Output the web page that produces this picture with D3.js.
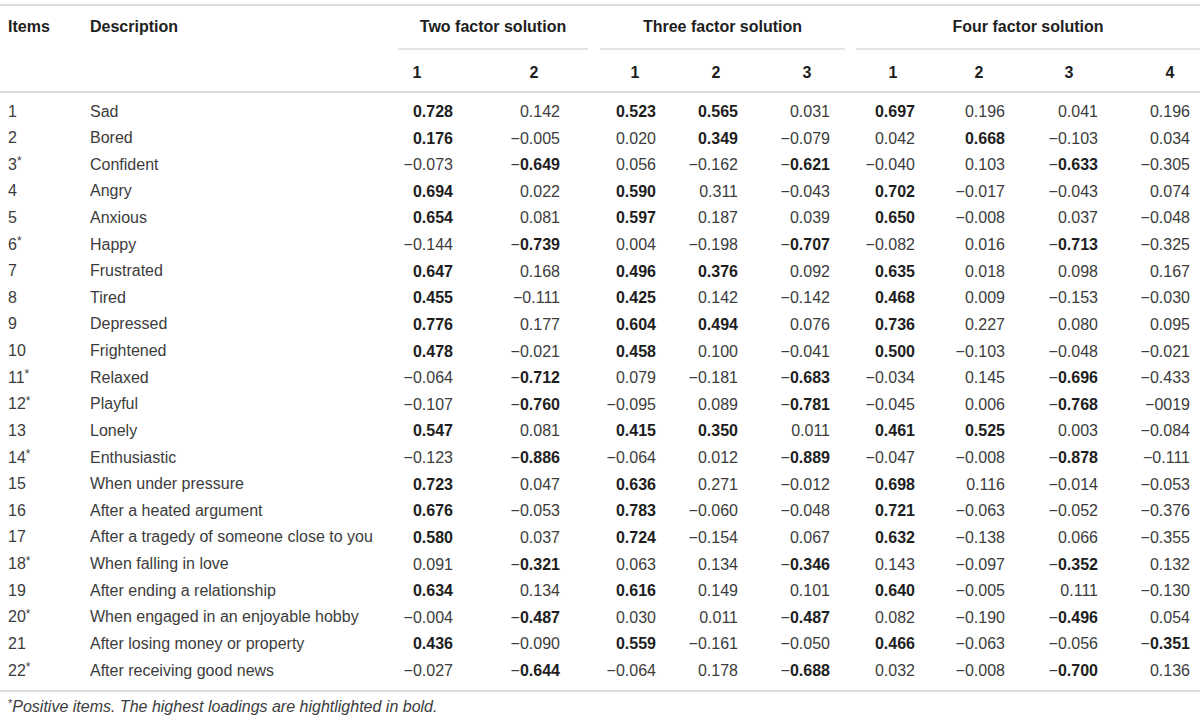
<!DOCTYPE html>
<html>
<head>
<meta charset="utf-8">
<script src="https://cdn.jsdelivr.net/npm/d3@7"></script>
<style>
  body { margin: 0; background: #fff; }
  svg { display: block; font-family: "Liberation Sans", Arial, Helvetica, sans-serif; }
</style>
</head>
<body>
<svg id="chart" width="1200" height="723"></svg>
<script>
// item numbers and descriptions (positive items get an asterisk)
const items = d3.range(1, 23)
const positiveItems = [3, 6, 11, 12, 14, 18, 20, 22]
const descriptions = ["Sad", "Bored", "Confident", "Angry", "Anxious", "Happy", "Frustrated", "Tired",
  "Depressed", "Frightened", "Relaxed", "Playful", "Lonely", "Enthusiastic", "When under pressure",
  "After a heated argument", "After a tragedy of someone close to you", "When falling in love",
  "After ending a relationship", "When engaged in an enjoyable hobby", "After losing money or property",
  "After receiving good news"]

const solutions = ["Two factor solution", "Three factor solution", "Four factor solution"]

// loadings, as printed
const two1 = ["0.728", "0.176", "-0.073", "0.694", "0.654", "-0.144", "0.647", "0.455", "0.776", "0.478", "-0.064", "-0.107", "0.547", "-0.123", "0.723", "0.676", "0.580", "0.091", "0.634", "-0.004", "0.436", "-0.027"]
const two2 = ["0.142", "-0.005", "-0.649", "0.022", "0.081", "-0.739", "0.168", "-0.111", "0.177", "-0.021", "-0.712", "-0.760", "0.081", "-0.886", "0.047", "-0.053", "0.037", "-0.321", "0.134", "-0.487", "-0.090", "-0.644"]
const three1 = ["0.523", "0.020", "0.056", "0.590", "0.597", "0.004", "0.496", "0.425", "0.604", "0.458", "0.079", "-0.095", "0.415", "-0.064", "0.636", "0.783", "0.724", "0.063", "0.616", "0.030", "0.559", "-0.064"]
const three2 = ["0.565", "0.349", "-0.162", "0.311", "0.187", "-0.198", "0.376", "0.142", "0.494", "0.100", "-0.181", "0.089", "0.350", "0.012", "0.271", "-0.060", "-0.154", "0.134", "0.149", "0.011", "-0.161", "0.178"]
const three3 = ["0.031", "-0.079", "-0.621", "-0.043", "0.039", "-0.707", "0.092", "-0.142", "0.076", "-0.041", "-0.683", "-0.781", "0.011", "-0.889", "-0.012", "-0.048", "0.067", "-0.346", "0.101", "-0.487", "-0.050", "-0.688"]
const four1 = ["0.697", "0.042", "-0.040", "0.702", "0.650", "-0.082", "0.635", "0.468", "0.736", "0.500", "-0.034", "-0.045", "0.461", "-0.047", "0.698", "0.721", "0.632", "0.143", "0.640", "0.082", "0.466", "0.032"]
const four2 = ["0.196", "0.668", "0.103", "-0.017", "-0.008", "0.016", "0.018", "0.009", "0.227", "-0.103", "0.145", "0.006", "0.525", "-0.008", "0.116", "-0.063", "-0.138", "-0.097", "-0.005", "-0.190", "-0.063", "-0.008"]
const four3 = ["0.041", "-0.103", "-0.633", "-0.043", "0.037", "-0.713", "0.098", "-0.153", "0.080", "-0.048", "-0.696", "-0.768", "0.003", "-0.878", "-0.014", "-0.052", "0.066", "-0.352", "0.111", "-0.496", "-0.056", "-0.700"]
const four4 = ["0.196", "0.034", "-0.305", "0.074", "-0.048", "-0.325", "0.167", "-0.030", "0.095", "-0.021", "-0.433", "-0019", "-0.084", "-0.111", "-0.053", "-0.376", "-0.355", "0.132", "-0.130", "0.054", "-0.351", "0.136"]

// items whose loading is highlighted (bold) in each column
const bold_two1 = [1, 2, 4, 5, 7, 8, 9, 10, 13, 15, 16, 17, 19, 21]
const bold_two2 = [3, 6, 11, 12, 14, 18, 20, 22]
const bold_three1 = [1, 4, 5, 7, 8, 9, 10, 13, 15, 16, 17, 19, 21]
const bold_three2 = [1, 2, 7, 9, 13]
const bold_three3 = [3, 6, 11, 12, 14, 18, 20, 22]
const bold_four1 = [1, 4, 5, 7, 8, 9, 10, 13, 15, 16, 17, 19, 21]
const bold_four2 = [2, 13]
const bold_four3 = [3, 6, 11, 12, 14, 18, 20, 22]
const bold_four4 = [21]

const footnote = "Positive items. The highest loadings are hightlighted in bold."

// columns: solution index, factor label, values, bold list
const columns = [
  {sol: 0, factor: "1", values: two1, bold: bold_two1},
  {sol: 0, factor: "2", values: two2, bold: bold_two2},
  {sol: 1, factor: "1", values: three1, bold: bold_three1},
  {sol: 1, factor: "2", values: three2, bold: bold_three2},
  {sol: 1, factor: "3", values: three3, bold: bold_three3},
  {sol: 2, factor: "1", values: four1, bold: bold_four1},
  {sol: 2, factor: "2", values: four2, bold: bold_four2},
  {sol: 2, factor: "3", values: four3, bold: bold_four3},
  {sol: 2, factor: "4", values: four4, bold: bold_four4}
]

// layout
const colRight = [453, 560, 656, 738, 830, 915, 1005, 1098, 1190]
const headX = [417, 534, 635, 716, 807, 893, 979, 1069, 1170]
const groupSpan = [[398, 588], [600, 845], [856, 1200]]
const lineColor = "#dcdcdc"
const textColor = "#3c3c3c"
const boldColor = "#1e1e1e"
const fontSize = 16

const svg = d3.select("#chart")

const y = d3.scalePoint().domain(items).range([111, 670])

function hline(x1, x2, yy, w) {
  svg.append("line")
    .attr("x1", x1).attr("x2", x2).attr("y1", yy).attr("y2", yy)
    .attr("stroke", lineColor).attr("stroke-width", w)
}

// rules
hline(0, 1200, 5, 2)
hline(0, 1200, 92, 2)
hline(0, 1200, 691, 2)
groupSpan.forEach(s => hline(s[0], s[1], 49, 1.5))

// header
const head = svg.append("g")
  .attr("font-size", fontSize).attr("font-weight", "bold").attr("fill", boldColor)
  .attr("dominant-baseline", "central")

head.append("text").attr("x", 8).attr("y", 26).text("Items")
head.append("text").attr("x", 90).attr("y", 26).text("Description")

head.selectAll(".grp")
  .data(solutions)
  .join("text")
  .attr("class", "grp")
  .attr("x", (d, i) => (groupSpan[i][0] + groupSpan[i][1]) / 2)
  .attr("y", 26)
  .attr("text-anchor", "middle")
  .text(d => d)

head.selectAll(".fac")
  .data(columns)
  .join("text")
  .attr("class", "fac")
  .attr("x", (d, i) => headX[i])
  .attr("y", 72)
  .attr("text-anchor", "middle")
  .text(d => d.factor)

// body
const body = svg.append("g")
  .attr("font-size", fontSize).attr("fill", textColor)
  .attr("dominant-baseline", "central")

const itemText = body.selectAll(".item")
  .data(items)
  .join("text")
  .attr("class", "item")
  .attr("x", 8)
  .attr("y", d => y(d))
  .text(d => d)
itemText.filter(d => positiveItems.includes(d))
  .append("tspan")
  .attr("font-size", 12)
  .attr("dy", -3)
  .text("*")

body.selectAll(".desc")
  .data(descriptions)
  .join("text")
  .attr("class", "desc")
  .attr("x", 90)
  .attr("y", (d, i) => y(items[i]))
  .text(d => d)

columns.forEach((col, ci) => {
  const cells = body.selectAll(".c" + ci)
    .data(col.values)
    .join("text")
    .attr("class", "c" + ci)
    .attr("x", colRight[ci])
    .attr("y", (d, i) => y(items[i]))
    .attr("text-anchor", "end")

  cells.each(function(d, i) {
    const t = d3.select(this)
    const neg = d.startsWith("-")
    const num = neg ? d.slice(1) : d
    const isBold = col.bold.includes(items[i])
    if (neg) t.append("tspan").text("\u2212")
    t.append("tspan")
      .attr("font-weight", isBold ? "bold" : null)
      .attr("fill", isBold ? boldColor : null)
      .text(num)
  })
})

// footnote
const foot = svg.append("text")
  .attr("x", 8).attr("y", 706)
  .attr("font-size", 16).attr("fill", textColor)
  .attr("dominant-baseline", "central")
foot.append("tspan").attr("font-size", 11).attr("dy", -3).text("*")
foot.append("tspan").attr("font-style", "italic").attr("dy", 3).text(footnote)
</script>
</body>
</html>
